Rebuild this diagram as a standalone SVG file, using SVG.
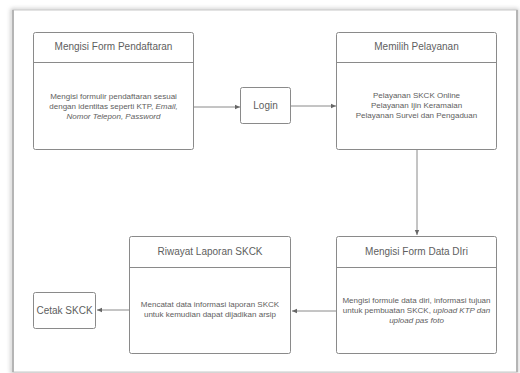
<svg xmlns="http://www.w3.org/2000/svg" width="520" height="373" viewBox="0 0 520 373">
<defs>
<filter id="sh" x="-5%" y="-5%" width="110%" height="110%">
<feGaussianBlur stdDeviation="2"/>
</filter>
<marker id="ah" markerWidth="6" markerHeight="6" refX="5" refY="3" orient="auto" markerUnits="userSpaceOnUse">
<path d="M0,0.8 L5,3 L0,5.2 Z" fill="#666"/>
</marker>
<style>
.box{fill:#fff;stroke:#8a8a8a;stroke-width:1}
.div{stroke:#8a8a8a;stroke-width:1}
.t{font-family:"Liberation Sans",Arial,sans-serif;fill:#5e5e5e;text-anchor:middle}
.h{font-size:10px}
.b{font-size:8px}
.c{stroke:#8a8a8a;stroke-width:1;fill:none;marker-end:url(#ah)}
</style>
</defs>
<rect x="0" y="0" width="520" height="373" fill="#fff"/>
<rect x="12" y="10" width="505" height="362" fill="none" stroke="#aaa" stroke-width="2" filter="url(#sh)"/>
<rect x="13" y="10" width="504" height="362" fill="#fff" stroke="#c8c8c8" stroke-width="1"/>
<line x1="13" y1="10" x2="13" y2="372" stroke="#b5b5b5" stroke-width="2"/>
<line x1="517" y1="10" x2="517" y2="372" stroke="#b5b5b5" stroke-width="2"/>

<g id="connectors">
<line class="c" x1="194" y1="107" x2="240" y2="107"/>
<line class="c" x1="291" y1="106" x2="336" y2="106"/>
<line class="c" x1="417" y1="149" x2="417" y2="235"/>
<line class="c" x1="337" y1="311" x2="292" y2="311"/>
<line class="c" x1="129" y1="310" x2="97" y2="310"/>
</g>

<g id="form-pendaftaran">
<rect class="box" x="33.5" y="32.5" width="160" height="117" rx="2"/>
<line class="div" x1="33.5" y1="62.5" x2="193.5" y2="62.5"/>
<text class="t h" x="113.5" y="50">Mengisi Form Pendaftaran</text>
<text class="t b" x="113.5" y="99">Mengisi formulir pendaftaran sesuai</text>
<text class="t b" x="113.5" y="109">dengan identitas seperti KTP, <tspan font-style="italic">Email,</tspan></text>
<text class="t b" x="113.5" y="119" font-style="italic">Nomor Telepon, Password</text>
</g>

<g id="login">
<rect class="box" x="240.5" y="87.5" width="50" height="36" rx="2"/>
<text class="t h" x="265.5" y="109">Login</text>
</g>

<g id="memilih-pelayanan">
<rect class="box" x="336.5" y="32.5" width="160" height="117" rx="2"/>
<line class="div" x1="336.5" y1="62.5" x2="496.5" y2="62.5"/>
<text class="t h" x="416.5" y="50">Memilih Pelayanan</text>
<text class="t b" x="416.5" y="98">Pelayanan SKCK Online</text>
<text class="t b" x="416.5" y="108">Pelayanan Ijin Keramaian</text>
<text class="t b" x="416.5" y="118">Pelayanan Survei dan Pengaduan</text>
</g>

<g id="form-data-diri">
<rect class="box" x="336.5" y="236.5" width="160" height="117" rx="2"/>
<line class="div" x1="336.5" y1="267.5" x2="496.5" y2="267.5"/>
<text class="t h" x="416.5" y="255">Mengisi Form Data DIri</text>
<text class="t b" x="416.5" y="303">Mengisi formule data diri, informasi tujuan</text>
<text class="t b" x="416.5" y="313">untuk pembuatan SKCK, <tspan font-style="italic">upload KTP dan</tspan></text>
<text class="t b" x="416.5" y="323" font-style="italic">upload pas foto</text>
</g>

<g id="riwayat-laporan">
<rect class="box" x="129.5" y="236.5" width="161" height="117" rx="2"/>
<line class="div" x1="129.5" y1="267.5" x2="290.5" y2="267.5"/>
<text class="t h" x="210" y="255">Riwayat Laporan SKCK</text>
<text class="t b" x="210" y="307">Mencatat data informasi laporan SKCK</text>
<text class="t b" x="210" y="317">untuk kemudian dapat dijadikan arsip</text>
</g>

<g id="cetak-skck">
<rect class="box" x="33.5" y="292.5" width="62" height="36" rx="2"/>
<text class="t h" x="64.5" y="314">Cetak SKCK</text>
</g>
</svg>
